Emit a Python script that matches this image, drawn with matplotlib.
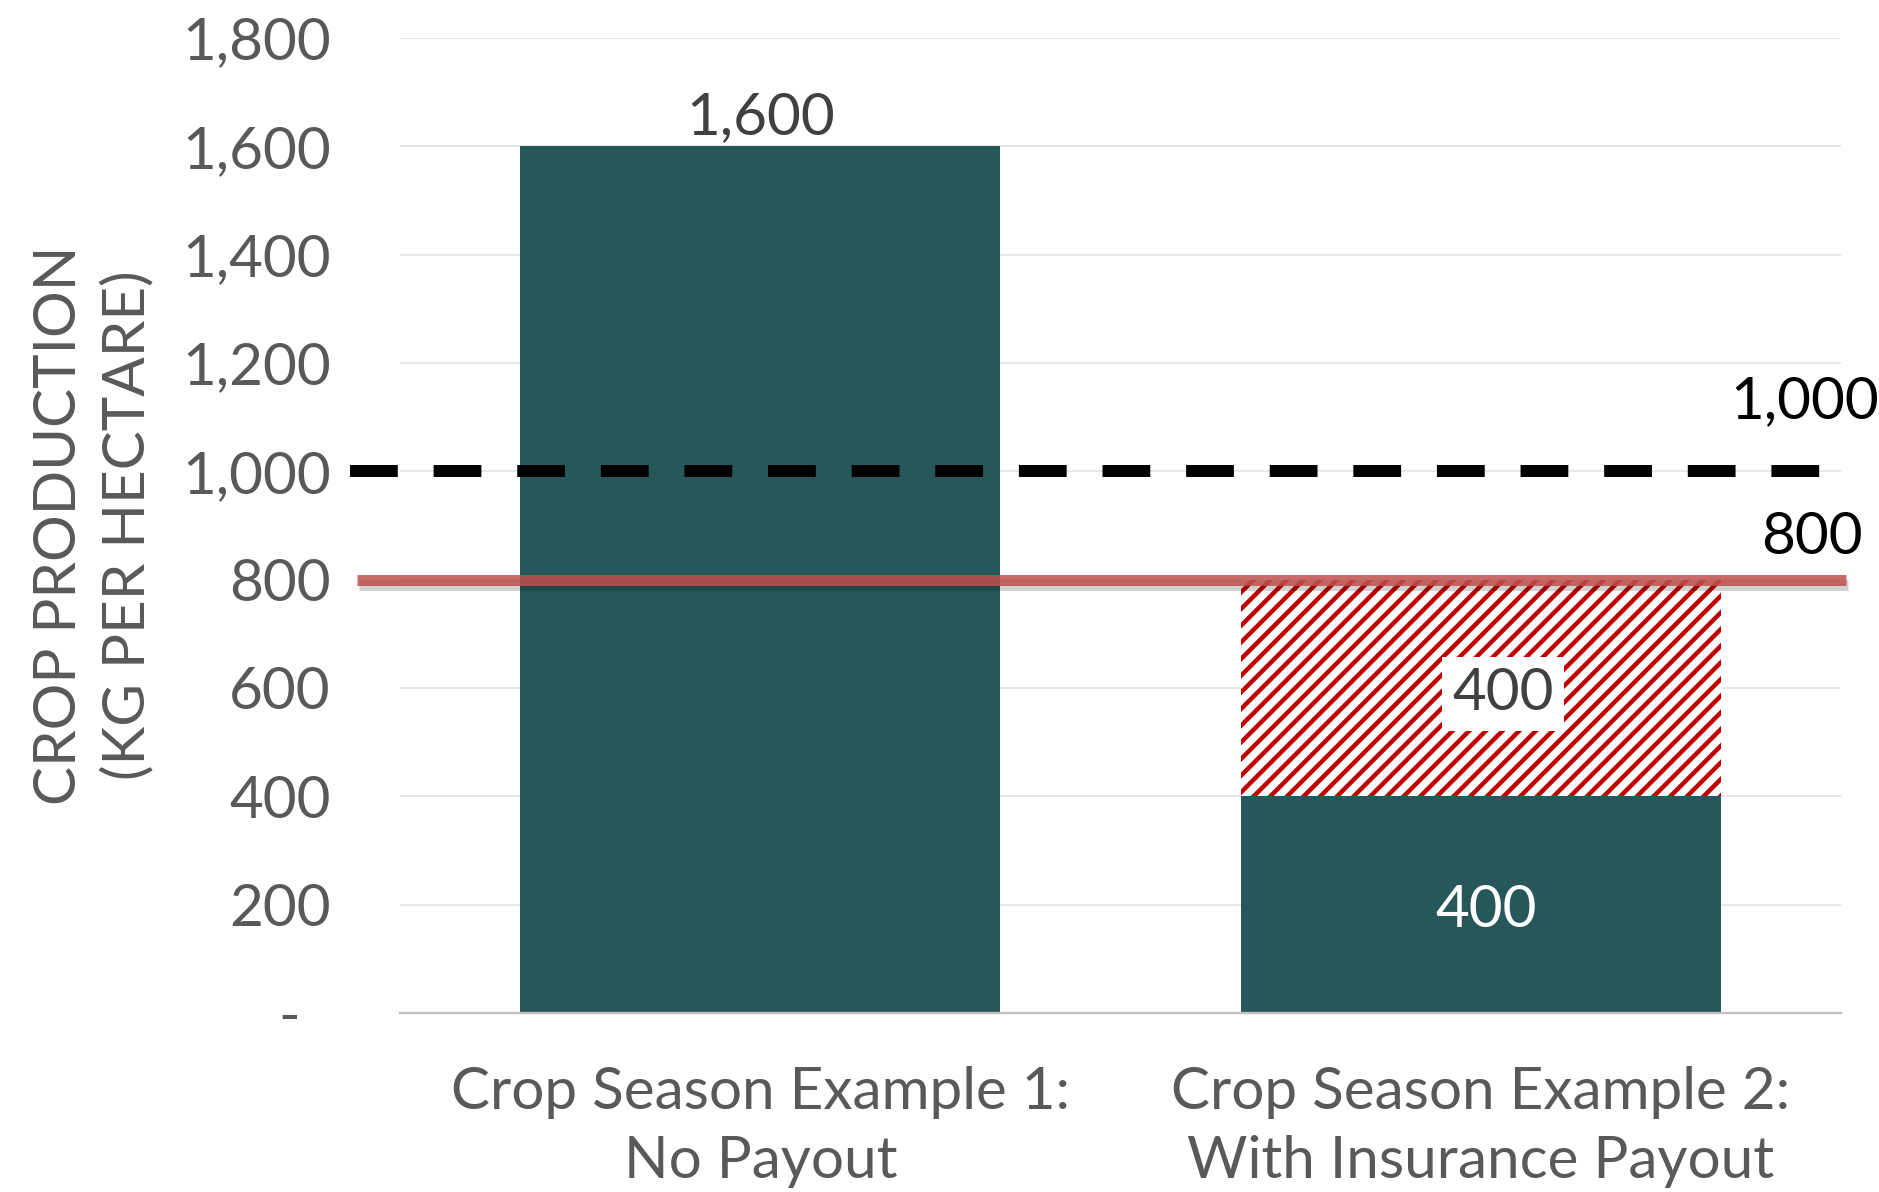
import matplotlib
matplotlib.use("Agg")
import matplotlib.pyplot as plt
import matplotlib.patheffects as pe
import matplotlib.transforms as mtransforms
from matplotlib.ticker import FixedLocator, FuncFormatter

# --- data -----------------------------------------------------------------
categories = ["Crop Season Example 1:\nNo Payout",
              "Crop Season Example 2:\nWith Insurance Payout"]
harvest = [1600, 400]          # kg per hectare actually harvested
payout = [0, 400]              # yield made up by the insurance payout
expected_yield = 1000          # dashed reference level
trigger_yield = 800            # payout trigger level
y_ticks = [0, 200, 400, 600, 800, 1000, 1200, 1400, 1600, 1800]

# --- style ----------------------------------------------------------------
plt.rcParams["font.family"] = ["Lato", "DejaVu Sans"]
plt.rcParams["hatch.linewidth"] = 3.2

TEAL = "#27575B"
HATCH_RED = "#C00000"
TRIGGER_RED = "#C0504D"
AXIS_GREY = "#595959"
FS = 42

fig = plt.figure(figsize=(18.79, 11.92), dpi=100)
ax = fig.add_axes([0.2129, 0.1502, 0.7669, 0.8179])

x = list(range(len(categories)))
width = 0.666

ax.bar(x, harvest, width=width, color=TEAL, zorder=2)
ax.bar(x, payout, width=width, bottom=harvest, facecolor="white",
       edgecolor=HATCH_RED, hatch="//", linewidth=0, zorder=2)

ax.set_xlim(-0.5, len(categories) - 0.5)
ax.set_ylim(0, y_ticks[-1])

# horizontal reference lines, running a little past the plot edges
blend = mtransforms.blended_transform_factory(ax.transAxes, ax.transData)
ax.plot([-0.035, 0.992], [expected_yield, expected_yield], transform=blend,
        color="black", lw=8.6, dashes=(4, 3), solid_capstyle="butt",
        dash_capstyle="butt", clip_on=False, zorder=5)
ax.plot([-0.030, 1.0035], [trigger_yield, trigger_yield], transform=blend,
        color=TRIGGER_RED, alpha=0.85, lw=7.9, solid_capstyle="butt",
        clip_on=False, zorder=6,
        path_effects=[pe.SimpleLineShadow(offset=(1.5, -3.5), shadow_color="black",
                                          alpha=0.18),
                      pe.Normal()])

# line value labels
ax.annotate(f"{expected_yield:,}", xy=(0.975, expected_yield), xycoords=blend,
            xytext=(0, 50), textcoords="offset points", ha="center", va="center",
            fontsize=FS, color="black", annotation_clip=False, zorder=7)
ax.annotate(f"{trigger_yield:,}", xy=(0.98, trigger_yield), xycoords=blend,
            xytext=(0, 30), textcoords="offset points", ha="center", va="center",
            fontsize=FS, color="black", annotation_clip=False, zorder=7)

# bar value labels
for xi, h, p in zip(x, harvest, payout):
    if p == 0:
        ax.annotate(f"{h:,}", xy=(xi, h), xytext=(0, 21), textcoords="offset points",
                    ha="center", va="center", fontsize=FS, color="#404040", zorder=7)
    else:
        ax.annotate(f"{h:,}", xy=(xi, h / 2), xytext=(4, -4),
                    textcoords="offset points", ha="center", va="center",
                    fontsize=FS, color="white", zorder=7)
        ax.annotate(f"{p:,}", xy=(xi, h + p / 2), xytext=(16, -4),
                    textcoords="offset points", ha="center", va="center",
                    fontsize=FS, color="#404040", zorder=7,
                    bbox=dict(boxstyle="square,pad=0.18", facecolor="white",
                              edgecolor="none"))

# axes
ax.yaxis.set_major_locator(FixedLocator(y_ticks))
ax.yaxis.set_major_formatter(
    FuncFormatter(lambda v, _: "-  " if v == 0 else f"{int(v):,}"))
ax.set_xticks(x)
ax.set_xticklabels(categories, fontsize=FS, color=AXIS_GREY, linespacing=1.38)
ax.tick_params(axis="y", length=0, pad=50, labelsize=FS, labelcolor=AXIS_GREY)
ax.tick_params(axis="x", length=0, pad=38)

ax.grid(axis="y", color="#E3E3E3", lw=1.2, zorder=0)
ax.set_axisbelow(True)
for side in ("left", "right", "top"):
    ax.spines[side].set_visible(False)
ax.spines["bottom"].set_color("#BFBFBF")
ax.spines["bottom"].set_linewidth(1.7)
ax.spines["bottom"].set_zorder(3)

ax.set_ylabel("CROP PRODUCTION\n(KG PER HECTARE)", fontsize=FS, color=AXIS_GREY,
              labelpad=20, linespacing=1.33)

fig.savefig("out.png", dpi=100, facecolor="white")
